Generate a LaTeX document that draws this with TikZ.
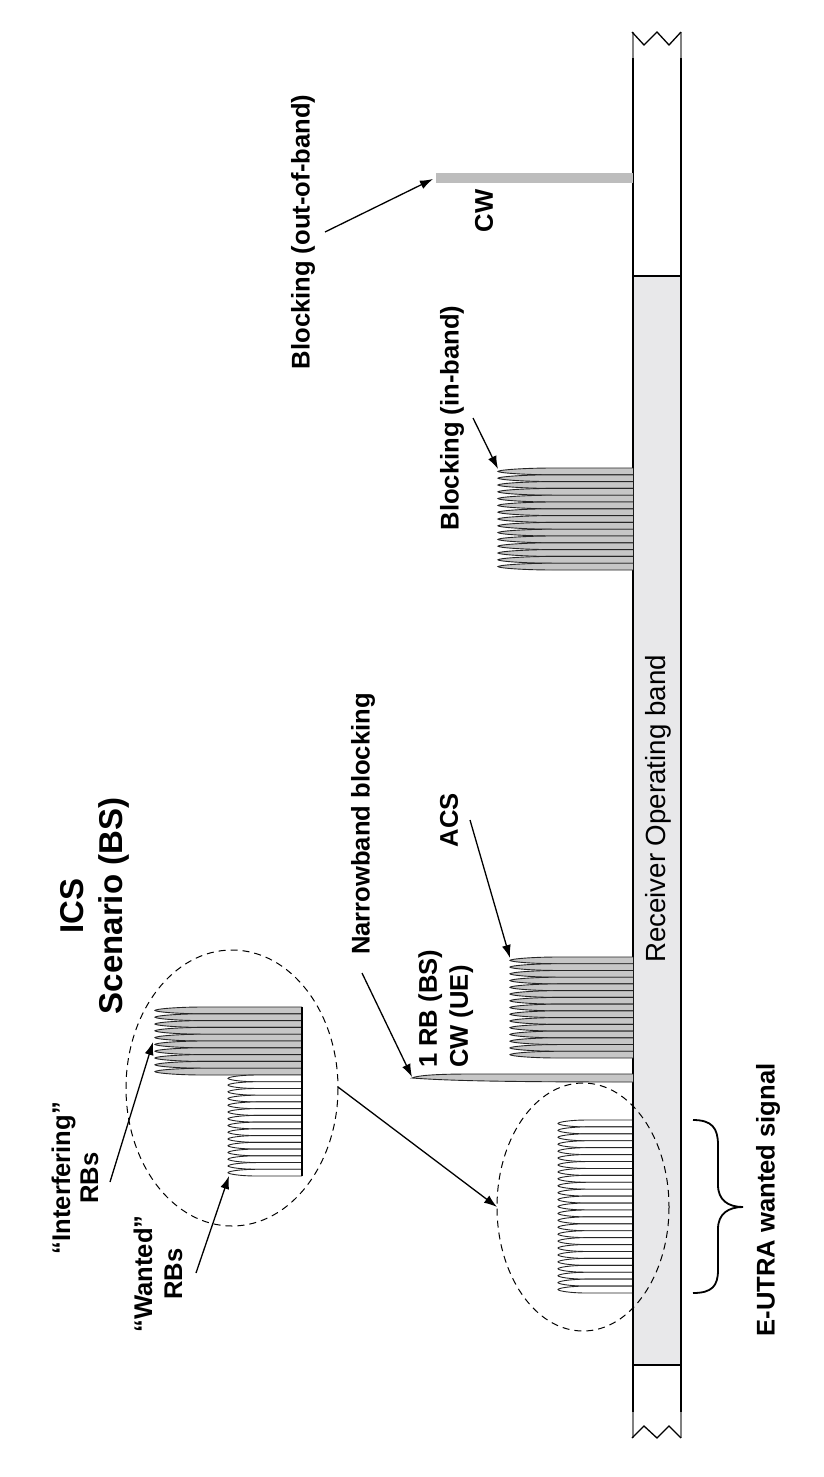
\documentclass[tikz,border=0pt]{standalone}
\usepackage{fontspec}
\setmainfont{Liberation Sans}
\usetikzlibrary{arrows.meta}
\definecolor{bandgray}{HTML}{E8E8EA}
\definecolor{rbgray}{HTML}{C6C6C6}
\definecolor{cwgray}{HTML}{BDBDBD}
\tikzset{
  lbl/.style={font=\fontsize{25.6}{29}\selectfont\bfseries, rotate=90, inner sep=0pt},
  arr/.style={line width=1.3pt, -{Latex[length=13pt,width=9pt]}},
  ell/.style={line width=1pt, dash pattern=on 7pt off 5pt},
  fing/.style={draw=black!85, line width=0.9pt},
  bandline/.style={line width=2.2pt},
}
% #1 tip x, #2 base x, #3 top y, #4 bottom y, #5 count, #6 fill, #7 taper length
\newcommand\rbcomb[7]{%
  \pgfmathsetmacro\fh{(#4-#3)/#5}%
  \foreach \i in {1,...,#5}{%
    \pgfmathsetmacro\ya{#3+(\i-1)*\fh}%
    \pgfmathsetmacro\yb{\ya+\fh}%
    \pgfmathsetmacro\ym{\ya+0.5*\fh}%
    \path[fing, fill=#6] (#2,\ya) -- (#1+#7,\ya)
      .. controls (#1+0.45*#7,\ya) and (#1,\ya+0.3*\fh) .. (#1,\ym)
      .. controls (#1,\yb-0.3*\fh) and (#1+0.45*#7,\yb) .. (#1+#7,\yb)
      -- (#2,\yb);
  }%
}
\begin{document}
\begin{tikzpicture}[x=1pt,y=-1pt]
\useasboundingbox[fill=white] (0,0) rectangle (823,1477);

% ---- receiver band ----
\fill[bandgray] (633,276) rectangle (681,1365);
\draw[bandline] (633,58) -- (633,1412);
\draw[bandline] (681,58) -- (681,1412);
\draw[gray, line width=1.6pt] (633,32) -- (633,58) (681,32) -- (681,58);
\draw[gray, line width=1.6pt] (633,1412) -- (633,1438) (681,1412) -- (681,1438);
\draw[line width=2pt] (633,276) -- (681,276);
\draw[line width=2pt] (633,1365) -- (681,1365);
\draw[line width=1.3pt] (632,32) -- (644,45) -- (657,32) -- (669,45) -- (681,32);
\draw[line width=1.3pt] (632,1438) -- (644,1426) -- (657,1438) -- (669,1426) -- (681,1438);
\node[rotate=90, inner sep=0pt, font=\fontsize{27.7}{30}\selectfont] (rob) at (658,809) {Receiver Operating band};

% ---- CW out-of-band ----
\fill[cwgray] (436,173) rectangle (633,183);
\coordinate (cwtip) at (433,179);
\node[lbl] (oob) at (303,232) {Blocking (out-of-band)};
\node[lbl] (cw) at (484,211) {CW};
\coordinate (oobs) at (325,232);
\draw[arr] (oobs) -- (cwtip);

% ---- blocking in-band ----
\rbcomb{498}{633}{468}{570}{15}{rbgray}{55}
\node[lbl] (ib) at (452,418) {Blocking (in-band)};
\coordinate (ibs) at (473,418);
\coordinate (ibtip) at (498,469);
\draw[arr] (ibs) -- (ibtip);

% ---- ACS ----
\rbcomb{510}{633}{957}{1058}{15}{rbgray}{48}
\node[lbl] (acs) at (449,820) {ACS};
\coordinate (acss) at (470,820);
\coordinate (acstip) at (510,958);
\draw[arr] (acss) -- (acstip);

% ---- narrowband ----
\path[fing, fill=rbgray] (633,1074) -- (470,1074) .. controls (430,1074) and (416,1076) .. (412,1078)
  .. controls (440,1080) and (480,1082) .. (633,1082);
\node[lbl] (nb) at (363,824) {Narrowband blocking};
\coordinate (nbs) at (362,973);
\coordinate (nbtip) at (412,1077);
\draw[arr] (nbs) -- (nbtip);
\node[lbl, align=left, anchor=north west, font=\fontsize{25.6}{31}\selectfont\bfseries] (rb1) at (418,1068) {1 RB (BS)\\CW (UE)};

% ---- E-UTRA wanted signal ----
\rbcomb{558}{633}{1120}{1293}{25}{white}{28}
\draw[bandline] (633,1110) -- (633,1300);
\draw[ell] (583,1207) ellipse [x radius=86, y radius=124];
\coordinate (smallw) at (497,1207);
\draw[line width=1.8pt] (693,1120) .. controls (712,1120) and (718,1128) .. (718,1145) -- (718,1185)
  .. controls (718,1200) and (728,1207) .. (743,1207)
  .. controls (728,1207) and (718,1214) .. (718,1229) -- (718,1270)
  .. controls (718,1286) and (712,1293) .. (693,1293);
\node[lbl] (eutra) at (768,1200) {E-UTRA wanted signal};

% ---- ICS zoom ----
\rbcomb{155}{302}{1007}{1075}{10}{rbgray}{48}
\rbcomb{228}{302}{1075}{1176}{15}{white}{28}
\draw[line width=1.2pt] (302,1007) -- (302,1176);
\draw[ell] (232,1088) ellipse [x radius=106, y radius=138];
\coordinate (bige) at (338,1087);
\draw[arr] (bige) -- (smallw);

\node[lbl, align=center, font=\fontsize{33}{39}\selectfont\bfseries] (title) at (95,906) {ICS\\Scenario (BS)};
\node[lbl, align=center, font=\fontsize{25.6}{28}\selectfont\bfseries] (intf) at (75,1178) {``Interfering''\\RBs};
\node[lbl, align=center, font=\fontsize{25.6}{30}\selectfont\bfseries] (want) at (158,1274) {``Wanted''\\RBs};
\coordinate (intfs) at (110,1182);
\coordinate (intftip) at (153,1042);
\draw[arr] (intfs) -- (intftip);
\coordinate (wants) at (196,1273);
\coordinate (wanttip) at (229,1176);
\draw[arr] (wants) -- (wanttip);
\end{tikzpicture}
\end{document}
